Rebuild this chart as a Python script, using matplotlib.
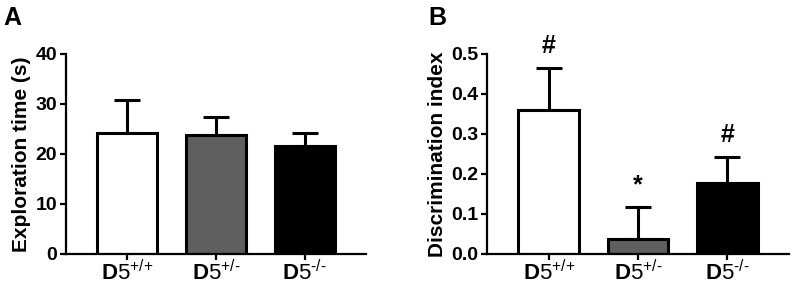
import matplotlib
matplotlib.use("Agg")
import numpy as np
from matplotlib import pyplot as plt

plt.rcParams['font.family'] = ['Liberation Sans', 'DejaVu Sans']
plt.rcParams['mathtext.fontset'] = 'custom'
plt.rcParams['mathtext.rm'] = 'Liberation Sans'
plt.rcParams['mathtext.bf'] = 'Liberation Sans:bold'

# data
genotypes = [r'$\mathbf{D}\mathrm{5}^{{+}/{+}}$', r'$\mathbf{D}\mathrm{5}^{{+}/‐}$', r'$\mathbf{D}\mathrm{5}^{‐/‐}$']
bar_colors = ['white', '#5f5f5f', 'black']

explore_mean = [24.2, 23.8, 21.6]
explore_sem = [6.6, 3.6, 2.6]

disc_mean = [0.36, 0.0375, 0.177]
disc_sem = [0.106, 0.08, 0.066]
disc_marks = ['#', '*', '#']


def barPanel(ax, means, sems, ylim, yticks, ylabel, ticklabels):
    x = np.arange(len(means))
    ax.bar(x, means, width=0.68, color=bar_colors, edgecolor='black', linewidth=2.2, zorder=2)
    ax.errorbar(x, means, yerr=[np.zeros(len(sems)), sems], fmt='none', ecolor='black',
                elinewidth=2.2, capsize=9.5, capthick=2.2, zorder=1)
    ax.set_xlim(-0.69, 2.69)
    ax.set_ylim(*ylim)
    ax.set_yticks(yticks)
    ax.set_yticklabels(ticklabels, fontsize=14, fontweight='bold')
    ax.set_xticks(x)
    ax.set_xticklabels(genotypes, fontsize=16)
    ax.set_ylabel(ylabel, fontsize=15, fontweight='bold', labelpad=3)
    for s in ['top', 'right']:
        ax.spines[s].set_visible(False)
    for s in ['left', 'bottom']:
        ax.spines[s].set_linewidth(1.6)
    ax.tick_params(axis='both', width=1.6, length=4.5, pad=2)
    ax.tick_params(axis='x', pad=0)
    return x


fig = plt.figure(figsize=(8, 2.87), dpi=100)
axA = fig.add_axes([0.0825, 0.115, 0.375, 0.697])
axB = fig.add_axes([0.609, 0.115, 0.377, 0.697])

barPanel(axA, explore_mean, explore_sem, (0, 40), [0, 10, 20, 30, 40],
         'Exploration time (s)', ['0', '10', '20', '30', '40'])
xb = barPanel(axB, disc_mean, disc_sem, (0, 0.5), [0, 0.1, 0.2, 0.3, 0.4, 0.5],
              'Discrimination index', ['0.0', '0.1', '0.2', '0.3', '0.4', '0.5'])

for i in range(len(disc_mean)):
    axB.annotate(disc_marks[i], (xb[i], disc_mean[i] + disc_sem[i]), xytext=(0, 7),
                 textcoords='offset points', ha='center', va='bottom',
                 fontsize=18, fontweight='bold', annotation_clip=False)

fig.text(0.004, 0.913, 'A', fontsize=18, fontweight='bold')
fig.text(0.535, 0.913, 'B', fontsize=18, fontweight='bold')

plt.savefig('out.png', dpi=100)
